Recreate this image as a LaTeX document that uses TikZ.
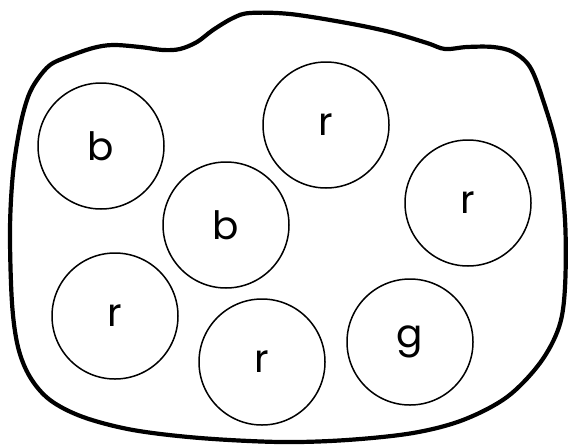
\documentclass[tikz,border=0pt]{standalone}
\usepackage{fontspec}
\setmainfont{Poppins}
\begin{document}
\begin{tikzpicture}[x=1pt,y=-1pt,
  ball/.style={circle,draw,line width=1.5pt,minimum size=126pt,inner sep=0pt,font=\fontsize{39}{39}\selectfont},
  blob/.style={line width=4.2pt,line join=round}]
\useasboundingbox (0,0) rectangle (569,444);
\draw[blob] plot[smooth cycle,tension=0.55] coordinates {
(250,13) (290,14) (347,23) (390,32) (427,43) (445,49) (467,47) (493,47) (513,52) (530,67) (543,100) (557,150) (565,220) (565,287) (559,327) (540,363) (507,397) (463,420) (413,433) (347,440) (280,442) (200,438) (133,430) (83,417) (50,400) (30,377) (18,347) (12,303) (10,230) (13,173) (20,127) (28,97) (37,80) (50,65) (67,57) (93,48) (113,45) (140,47) (163,50) (180,49) (197,42) (213,30) (233,18)};
\node[ball] (b1) at (101,146) {b};
\node[ball] (r1) at (326,125) {r};
\node[ball] (b2) at (226,225) {b};
\node[ball] (r2) at (468,203) {r};
\node[ball] (r3) at (115,316) {r};
\node[ball] (r4) at (262,362) {r};
\node[ball] (g1) at (410,342) {g};
\end{tikzpicture}
\end{document}
